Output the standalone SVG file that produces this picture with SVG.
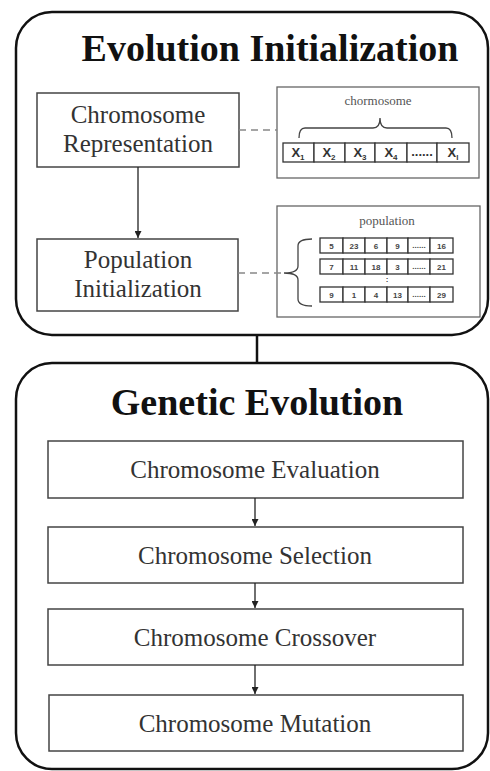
<svg xmlns="http://www.w3.org/2000/svg" width="490" height="771" viewBox="0 0 490 771">
<defs>
<style>
.container{fill:#fff;stroke:#111;stroke-width:2.5}
.box{fill:#fff;stroke:#444;stroke-width:1.5}
.panel{fill:#fff;stroke:#666;stroke-width:1.3}
.title{font-family:"Liberation Serif",serif;font-weight:bold;font-size:38px;fill:#111;text-anchor:middle}
.lbl{font-family:"Liberation Serif",serif;font-size:25px;fill:#333;text-anchor:middle}
.small{font-family:"Liberation Serif",serif;font-size:13px;fill:#555;text-anchor:middle}
.cell{fill:#fff;stroke:#333;stroke-width:1.3}
.ctext{font-family:"Liberation Sans",sans-serif;font-weight:bold;font-size:13px;fill:#333;text-anchor:middle}
.ptext{font-family:"Liberation Sans",sans-serif;font-weight:bold;font-size:8px;fill:#444;text-anchor:middle}
.line{fill:none;stroke:#222;stroke-width:1.3}
.dash{fill:none;stroke:#888;stroke-width:1.5;stroke-dasharray:7,5}
.brace{fill:none;stroke:#444;stroke-width:1.3}
</style>
<marker id="arr" viewBox="0 0 10 10" refX="10" refY="5" markerWidth="7" markerHeight="7" orient="auto" markerUnits="userSpaceOnUse">
<path d="M0,0 L10,5 L0,10 z" fill="#222"/>
</marker>
</defs>

<g id="evolution-initialization">
<rect class="container" x="16" y="12" width="472" height="323" rx="36" ry="36"/>
<text class="title" x="270" y="61">Evolution Initialization</text>
</g>

<g id="genetic-evolution">
<rect class="container" x="16" y="363" width="472" height="406" rx="36" ry="36"/>
<text class="title" x="257" y="415">Genetic Evolution</text>
</g>

<g id="chromosome-representation">
<rect class="box" x="37" y="93" width="202" height="74"/>
<text class="lbl" x="138" y="123">Chromosome</text>
<text class="lbl" x="138" y="152">Representation</text>
</g>

<g id="population-initialization">
<rect class="box" x="37" y="239" width="201" height="72"/>
<text class="lbl" x="138" y="268">Population</text>
<text class="lbl" x="138" y="297">Initialization</text>
</g>

<g id="chromosome-panel">
<rect class="panel" x="277" y="87" width="202" height="91"/>
<text class="small" x="378" y="105">chormosome</text>
<path class="brace" d="M299,138 Q299,128 305,128 L373,128 Q380,128 380,118 Q380,128 387,128 L446,128 Q452,128 452,138"/>
<g>
<rect class="cell" x="283" y="143" width="31" height="19"/>
<rect class="cell" x="314" y="143" width="31" height="19"/>
<rect class="cell" x="345" y="143" width="30" height="19"/>
<rect class="cell" x="375" y="143" width="32" height="19"/>
<rect class="cell" x="407" y="143" width="30" height="19"/>
<rect class="cell" x="437" y="143" width="32" height="19"/>
<text class="ctext" x="298" y="157">X<tspan font-size="8" dy="3">1</tspan></text>
<text class="ctext" x="329" y="157">X<tspan font-size="8" dy="3">2</tspan></text>
<text class="ctext" x="360" y="157">X<tspan font-size="8" dy="3">3</tspan></text>
<text class="ctext" x="391" y="157">X<tspan font-size="8" dy="3">4</tspan></text>
<text class="ctext" x="422" y="156" font-size="10">......</text>
<text class="ctext" x="453" y="157">X<tspan font-size="8" dy="3">l</tspan></text>
</g>
</g>

<g id="population-panel">
<rect class="panel" x="277" y="206" width="203" height="111"/>
<text class="small" x="387" y="225">population</text>
<path class="brace" d="M312,239 Q298,239 298,246 L298,266 Q298,273 284,273 Q298,273 298,280 L298,299 Q298,306 312,306"/>
<g>
<rect class="cell" x="320" y="238" width="23" height="15"/>
<rect class="cell" x="343" y="238" width="22" height="15"/>
<rect class="cell" x="365" y="238" width="22" height="15"/>
<rect class="cell" x="387" y="238" width="21" height="15"/>
<rect class="cell" x="408" y="238" width="22" height="15"/>
<rect class="cell" x="430" y="238" width="23" height="15"/>
<text class="ptext" x="331.5" y="248.5">5</text>
<text class="ptext" x="354" y="248.5">23</text>
<text class="ptext" x="376" y="248.5">6</text>
<text class="ptext" x="397.5" y="248.5">9</text>
<text class="ptext" x="419" y="248">......</text>
<text class="ptext" x="441.5" y="248.5">16</text>
</g>
<g>
<rect class="cell" x="320" y="259" width="23" height="15"/>
<rect class="cell" x="343" y="259" width="22" height="15"/>
<rect class="cell" x="365" y="259" width="22" height="15"/>
<rect class="cell" x="387" y="259" width="21" height="15"/>
<rect class="cell" x="408" y="259" width="22" height="15"/>
<rect class="cell" x="430" y="259" width="23" height="15"/>
<text class="ptext" x="331.5" y="269.5">7</text>
<text class="ptext" x="354" y="269.5">11</text>
<text class="ptext" x="376" y="269.5">18</text>
<text class="ptext" x="397.5" y="269.5">3</text>
<text class="ptext" x="419" y="269">......</text>
<text class="ptext" x="441.5" y="269.5">21</text>
</g>
<text class="ptext" x="387" y="282">:</text>
<g>
<rect class="cell" x="320" y="287" width="23" height="15"/>
<rect class="cell" x="343" y="287" width="22" height="15"/>
<rect class="cell" x="365" y="287" width="22" height="15"/>
<rect class="cell" x="387" y="287" width="21" height="15"/>
<rect class="cell" x="408" y="287" width="22" height="15"/>
<rect class="cell" x="430" y="287" width="23" height="15"/>
<text class="ptext" x="331.5" y="297.5">9</text>
<text class="ptext" x="354" y="297.5">1</text>
<text class="ptext" x="376" y="297.5">4</text>
<text class="ptext" x="397.5" y="297.5">13</text>
<text class="ptext" x="419" y="297">......</text>
<text class="ptext" x="441.5" y="297.5">29</text>
</g>
</g>

<g id="chromosome-evaluation">
<rect class="box" x="48" y="441" width="415" height="57"/>
<text class="lbl" x="255" y="478">Chromosome Evaluation</text>
</g>
<g id="chromosome-selection">
<rect class="box" x="48" y="527" width="415" height="56"/>
<text class="lbl" x="255" y="564">Chromosome Selection</text>
</g>
<g id="chromosome-crossover">
<rect class="box" x="48" y="609" width="415" height="56"/>
<text class="lbl" x="255" y="646">Chromosome Crossover</text>
</g>
<g id="chromosome-mutation">
<rect class="box" x="49" y="695" width="414" height="56"/>
<text class="lbl" x="255" y="732">Chromosome Mutation</text>
</g>

<g id="connectors">
<line class="line" x1="138" y1="167" x2="138" y2="238" marker-end="url(#arr)"/>
<line class="dash" x1="239" y1="130" x2="277" y2="130"/>
<line class="dash" x1="238" y1="273" x2="284" y2="273"/>
<line x1="257" y1="335" x2="257" y2="363" stroke="#111" stroke-width="2.5"/>
<line class="line" x1="255" y1="498" x2="255" y2="526" marker-end="url(#arr)"/>
<line class="line" x1="255" y1="583" x2="255" y2="608" marker-end="url(#arr)"/>
<line class="line" x1="255" y1="665" x2="255" y2="694" marker-end="url(#arr)"/>
</g>
</svg>
